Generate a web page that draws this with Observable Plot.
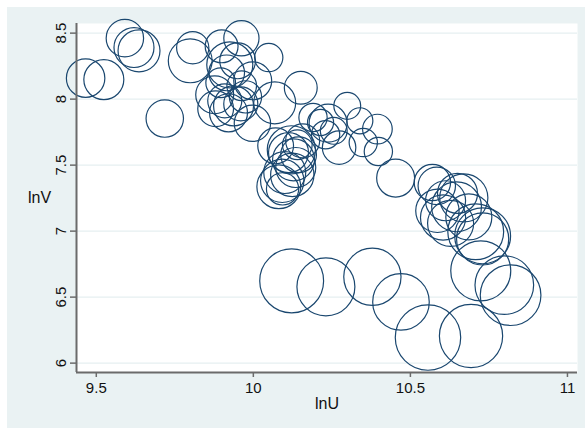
<!DOCTYPE html>
<html>
<head>
<meta charset="utf-8">
<script src="https://cdn.jsdelivr.net/npm/d3@7"></script>
<script src="https://cdn.jsdelivr.net/npm/@observablehq/plot@0.6"></script>
<style>
  body { margin: 0; background: #ffffff; width: 585px; height: 428px; position: relative; overflow: hidden; }
  #bg { position: absolute; left: 7px; top: 7px; width: 578px; height: 421px; background: #EAF2F3; }
  #chart { position: absolute; left: 0; top: 0; }
</style>
</head>
<body>
<div id="bg"></div>
<div id="chart"></div>
<script>
// lnU values
const lnU = [
  9.466, 9.524, 9.591, 9.620, 9.636, 9.718,
  9.799, 9.807, 9.899, 9.962, 10.049, 9.925, 9.915, 9.950, 9.998, 9.877, 9.937, 9.909, 9.960, 9.880, 9.921, 9.975, 10.068, 10.151, 9.997, 9.963, 9.896,
  10.071, 10.121, 10.112, 10.128, 10.100, 10.081, 10.092, 10.124, 10.135, 10.144, 10.093, 10.140, 10.157,
  10.190, 10.238, 10.299, 10.256, 10.273, 10.339, 10.350, 10.395, 10.398, 10.453, 10.214, 10.230,
  10.570, 10.584, 10.650, 10.670, 10.586, 10.604, 10.628, 10.686, 10.708, 10.730, 10.730, 10.647, 10.612,
  10.122, 10.231, 10.379, 10.470, 10.556, 10.693, 10.724, 10.799, 10.819
];
// lnV values
const lnV = [
  8.159, 8.148, 8.462, 8.391, 8.366, 7.853,
  8.290, 8.389, 8.400, 8.461, 8.315, 8.260, 8.199, 8.290, 8.139, 8.033, 7.949, 7.987, 7.964, 7.927, 7.896, 8.017, 7.972, 8.086, 7.817, 8.101, 8.124,
  7.646, 7.616, 7.595, 7.540, 7.444, 7.336, 7.381, 7.426, 7.482, 7.578, 7.320, 7.654, 7.684,
  7.861, 7.818, 7.949, 7.760, 7.633, 7.836, 7.671, 7.773, 7.603, 7.402, 7.823, 7.730,
  7.368, 7.343, 7.286, 7.252, 7.154, 7.103, 7.059, 7.108, 6.995, 6.964, 6.941, 7.184, 7.230,
  6.623, 6.578, 6.654, 6.464, 6.194, 6.205, 6.699, 6.591, 6.515
];
// analytic weights (circle area)
const weight = [
  37, 40, 35, 40, 44, 35,
  48, 26, 27, 31, 20, 53, 32, 32, 36, 36, 40, 29, 29, 32, 36, 26, 44, 27, 33, 22, 22,
  32, 58, 40, 44, 44, 48, 47, 47, 40, 32, 26, 22, 29,
  20, 36, 18, 18, 28, 17, 20, 22, 20, 36, 17, 20,
  33, 35, 40, 58, 47, 51, 53, 53, 78, 78, 68, 62, 40,
  102, 84, 82, 80, 107, 100, 90, 86, 92
];
const xTicks = [9.5, 10, 10.5, 11];
const yTicks = [6, 6.5, 7, 7.5, 8, 8.5];
const xLabel = "lnU";
const yLabel = "lnV";

const data = lnU.map((u, i) => ({u, v: lnV[i], w: weight[i]}));

const xDomain = [9.437, 11.032];
const yDomain = [5.929, 8.573];
const axisColor = "#6b6b6b";
const font = "'Liberation Sans', Arial, sans-serif";

const chart = Plot.plot({
  width: 585,
  height: 428,
  marginLeft: 76,
  marginRight: 8,
  marginTop: 23,
  marginBottom: 56,
  style: {background: "transparent", fontFamily: font, fontSize: "15px", color: "#111"},
  x: {domain: xDomain},
  y: {domain: yDomain},
  r: {type: "sqrt", domain: [0, 100], range: [0, 31.62]},
  marks: [
    Plot.frame({fill: "white", stroke: "none"}),
    Plot.gridY(yTicks, {stroke: "#E6EFF1", strokeOpacity: 1, strokeWidth: 1.2}),
    Plot.dot(data, {x: "u", y: "v", r: "w", stroke: "#1A476F", strokeWidth: 1.2, fill: "none"}),
    Plot.ruleX([xDomain[0]], {stroke: axisColor, strokeWidth: 2}),
    Plot.ruleY([yDomain[0]], {stroke: axisColor, strokeWidth: 2}),
    Plot.axisX(xTicks, {tickFormat: d => String(d), tickSize: 5, tickPadding: 5, stroke: axisColor, strokeWidth: 1.5, fontSize: 15, fill: "#111", label: null}),
    Plot.axisY(yTicks, {tickFormat: d => String(d), tickSize: 6, tickPadding: 5, tickRotate: -90, stroke: axisColor, strokeWidth: 1.5, fontSize: 15, fill: "#111", label: null}),
    Plot.text([xLabel], {frameAnchor: "bottom", dy: 36, fontSize: 16, fill: "#111", textAnchor: "middle"}),
    Plot.text([yLabel], {frameAnchor: "left", dx: -37, fontSize: 16, fill: "#111", textAnchor: "middle"})
  ]
});
document.getElementById("chart").appendChild(chart);
</script>
</body>
</html>
